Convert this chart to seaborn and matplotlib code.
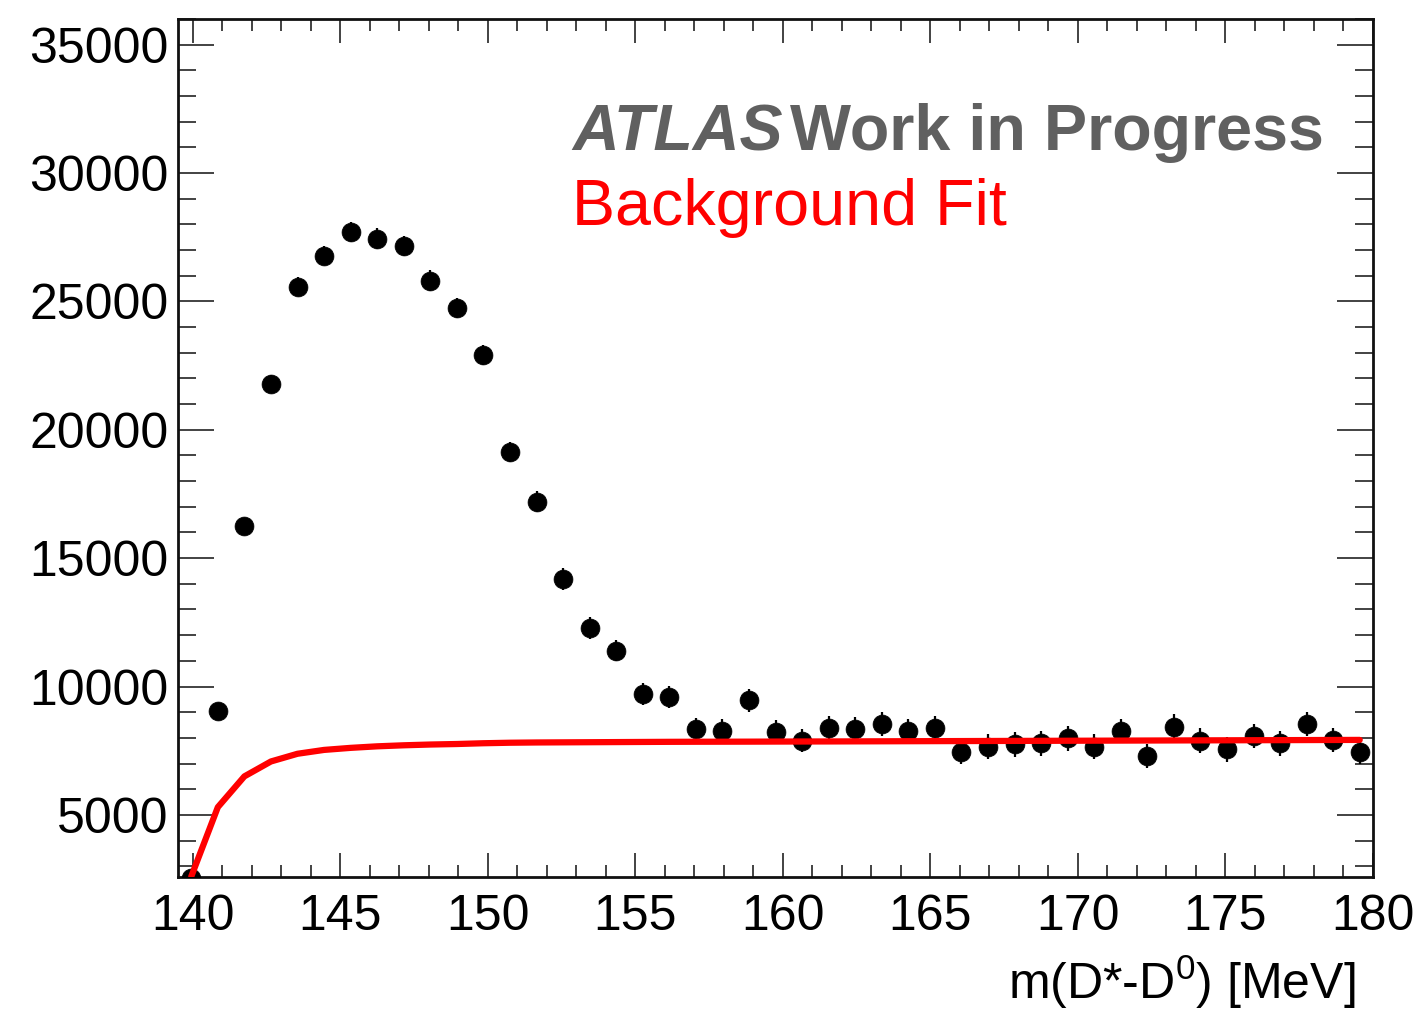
import numpy as np
import pandas as pd
import matplotlib
matplotlib.use("Agg")
import matplotlib.pyplot as plt
import seaborn as sns
from matplotlib.ticker import MultipleLocator

# ---- data ----
bin_centers = [139.95, 140.85, 141.75, 142.65, 143.55, 144.45, 145.35, 146.25, 147.15,
               148.05, 148.95, 149.85, 150.75, 151.65, 152.55, 153.45, 154.35, 155.25,
               156.15, 157.05, 157.95, 158.85, 159.75, 160.65, 161.55, 162.45, 163.35,
               164.25, 165.15, 166.05, 166.95, 167.85, 168.75, 169.65, 170.55, 171.45,
               172.35, 173.25, 174.15, 175.05, 175.95, 176.85, 177.75, 178.65, 179.55]
counts = [2550, 9050, 16250, 21790, 25570, 26780, 27700, 27440, 27160,
          25810, 24740, 22910, 19130, 17200, 14190, 12270, 11400, 9700,
          9600, 8330, 8280, 9470, 8230, 7880, 8400, 8340, 8540,
          8270, 8400, 7460, 7660, 7750, 7790, 7980, 7660, 8270,
          7290, 8440, 7890, 7550, 8070, 7790, 8540, 7920, 7460]
errors = [200, 300, 330, 350, 370, 380, 400, 400, 400,
          400, 400, 400, 400, 400, 420, 420, 420, 430,
          430, 440, 440, 450, 450, 450, 460, 460, 460,
          460, 460, 480, 480, 480, 480, 480, 480, 480,
          480, 480, 480, 480, 480, 480, 480, 480, 480]
fit_values = [2600, 5300, 6500, 7080, 7380, 7530, 7610, 7670, 7710,
              7740, 7760, 7790, 7810, 7820, 7825, 7830, 7835, 7840,
              7845, 7848, 7850, 7852, 7855, 7858, 7860, 7863, 7866,
              7869, 7872, 7875, 7878, 7881, 7884, 7887, 7890, 7893,
              7896, 7899, 7902, 7905, 7908, 7911, 7914, 7917, 7920]

x_ticks = [140, 145, 150, 155, 160, 165, 170, 175, 180]
y_ticks = [5000, 10000, 15000, 20000, 25000, 30000, 35000]

df = pd.DataFrame({"x": bin_centers, "y": counts, "err": errors})
fit_df = pd.DataFrame({"x": bin_centers, "y": fit_values})

# ---- style ----
sns.set_theme(style="ticks")
plt.rcParams["font.family"] = ["Liberation Sans", "DejaVu Sans"]
plt.rcParams["mathtext.fontset"] = "custom"
plt.rcParams["mathtext.rm"] = "Liberation Sans"
plt.rcParams["mathtext.default"] = "regular"

fig = plt.figure(figsize=(14.19, 10.11), dpi=100)
ax = fig.add_axes([178 / 1419, 1 - 877 / 1011, (1373 - 178) / 1419, (877 - 19) / 1011])

ax.errorbar(df["x"], df["y"], yerr=df["err"], fmt="none", ecolor="black",
            elinewidth=1.6, capsize=0, zorder=3)
sns.scatterplot(data=df, x="x", y="y", ax=ax, color="black", s=185,
                edgecolor="black", linewidth=0.5, zorder=4, legend=False, clip_on=True)
sns.lineplot(data=fit_df, x="x", y="y", ax=ax, color="#ff0000", linewidth=4.5,
             sort=False, estimator=None, zorder=5, legend=False)

ax.set_xlim(139.5, 180)
ax.set_ylim(2580, 36000)
ax.set_xticks(x_ticks)
ax.set_yticks(y_ticks)
ax.xaxis.set_minor_locator(MultipleLocator(1))
ax.yaxis.set_minor_locator(MultipleLocator(1000))

ax.tick_params(axis="both", which="both", direction="in", top=True, right=True,
               colors="#222222", labelcolor="black", width=1.2)
ax.tick_params(axis="x", which="major", length=17.5, labelsize=36, pad=12)
ax.tick_params(axis="x", which="minor", length=8.7)
ax.tick_params(axis="y", which="major", length=26, labelsize=36, pad=7)
ax.tick_params(axis="y", which="minor", length=13)
for sp in ax.spines.values():
    sp.set_linewidth(2.0)
    sp.set_color("#111111")

ax.set_xlabel("m(D*-D$^{0}$) [MeV]", fontsize=36, loc="right", color="black")
ax.xaxis.set_label_coords(0.985, -0.089)
ax.set_ylabel("")

# ---- annotations ----
ax.text(0.3297, 0.8473, "ATLAS", transform=ax.transAxes, fontsize=46.5,
        fontweight="bold", fontstyle="italic", color="#606060", va="baseline", ha="left")
ax.text(0.5121, 0.8473, "Work in Progress", transform=ax.transAxes, fontsize=46.5,
        fontweight="bold", color="#606060", va="baseline", ha="left")
ax.text(0.3297, 0.7599, "Background Fit", transform=ax.transAxes, fontsize=46.5,
        color="#ff0000", va="baseline", ha="left")

fig.savefig("out.png", dpi=100)
